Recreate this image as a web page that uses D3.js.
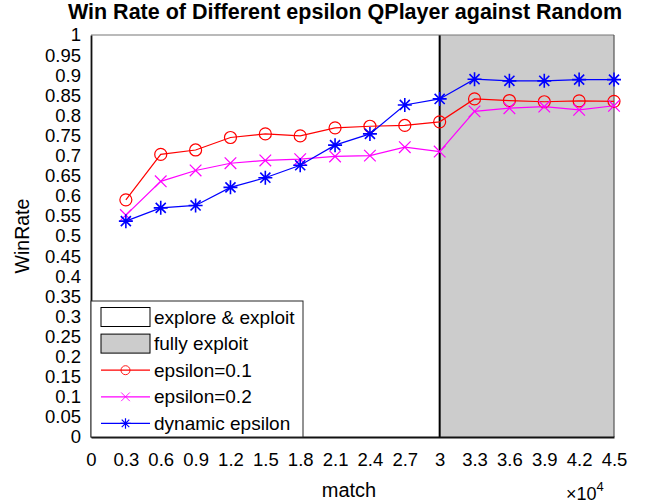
<!DOCTYPE html>
<html><head><meta charset="utf-8">
<script src="https://cdn.jsdelivr.net/npm/d3@7"></script>
<style>
body{margin:0;background:#fff;}
svg text{font-family:"Liberation Sans",Arial,sans-serif;fill:#000;}
</style></head>
<body>
<svg id="chart" width="649" height="504"></svg>
<script>
const matches = [0.3,0.6,0.9,1.2,1.5,1.8,2.1,2.4,2.7,3.0,3.3,3.6,3.9,4.2,4.5];
const eps01 = [0.590,0.703,0.714,0.745,0.754,0.749,0.769,0.773,0.775,0.784,0.841,0.837,0.834,0.836,0.835];
const eps02 = [0.552,0.636,0.663,0.681,0.688,0.691,0.698,0.700,0.721,0.710,0.810,0.818,0.822,0.814,0.824];
const dynEps = [0.537,0.570,0.576,0.621,0.645,0.676,0.726,0.754,0.826,0.841,0.890,0.886,0.886,0.889,0.889];
const xTicks = [0,0.3,0.6,0.9,1.2,1.5,1.8,2.1,2.4,2.7,3,3.3,3.6,3.9,4.2,4.5];
const yTicks = d3.range(0,21).map(i=>+(i*0.05).toFixed(2));
const exploitStart = 3, exploitEnd = 4.5;
const seriesNames = ["epsilon=0.1","epsilon=0.2","dynamic epsilon"];
const regionNames = ["explore & exploit","fully exploit"];

const svg = d3.select("#chart");
const L=91, R=614, T=35, B=437;
const x = d3.scaleLinear().domain([0,4.5]).range([L,R]);
const y = d3.scaleLinear().domain([0,1]).range([B,T]);

svg.append("rect").attr("x",L).attr("y",T).attr("width",R-L).attr("height",B-T).attr("fill","#fff");
svg.append("rect").attr("x",x(exploitStart)).attr("y",T).attr("width",x(exploitEnd)-x(exploitStart)).attr("height",B-T)
  .attr("fill","#cccccc");
svg.append("line").attr("x1",x(exploitStart)).attr("x2",x(exploitStart)).attr("y1",T).attr("y2",B)
  .attr("stroke","#000").attr("stroke-width",2);

svg.append("line").attr("x1",L).attr("x2",R).attr("y1",T).attr("y2",T).attr("stroke","#777").attr("stroke-width",1.2);
svg.append("line").attr("x1",R).attr("x2",R).attr("y1",T).attr("y2",B).attr("stroke","#555").attr("stroke-width",1.2);

const fmt = d=> String(d);
const xAxis = svg.append("g").attr("transform",`translate(0,${B})`)
  .call(d3.axisBottom(x).tickValues(xTicks).tickFormat(fmt).tickSize(0).tickPadding(16));
const yAxis = svg.append("g").attr("transform",`translate(${L},0)`)
  .call(d3.axisLeft(y).tickValues(yTicks).tickFormat(fmt).tickSize(0).tickPadding(10));
[xAxis,yAxis].forEach(g=>{
  g.select(".domain").attr("stroke","#111").attr("stroke-width",1.8);
  g.selectAll("text").style("font-size","18.5px").attr("fill","#262626");
});

const colors = ["#ff0000","#ff00ff","#0000ff"];
const data = [eps01,eps02,dynEps];
const line = d3.line().x((d,i)=>x(matches[i])).y(d=>y(d));
function marker(g,type,color){
  if(type===0){
    g.append("circle").attr("r",6).attr("fill","none").attr("stroke",color).attr("stroke-width",1.2);
  } else if(type===1){
    const s=5.8;
    g.append("path").attr("d",`M${-s},${-s}L${s},${s}M${-s},${s}L${s},${-s}`).attr("stroke",color).attr("stroke-width",1.2);
  } else {
    const s=7, d=s*0.72;
    g.append("path").attr("d",`M${-s},0L${s},0M0,${-s}L0,${s}M${-d},${-d}L${d},${d}M${-d},${d}L${d},${-d}`)
      .attr("stroke",color).attr("stroke-width",1.6);
  }
}
data.forEach((vals,k)=>{
  svg.append("path").datum(vals).attr("d",line).attr("fill","none").attr("stroke",colors[k]).attr("stroke-width",1.2);
  vals.forEach((v,i)=>{
    const g=svg.append("g").attr("transform",`translate(${x(matches[i])},${y(v)})`);
    marker(g,k,colors[k]);
  });
});

const lg = svg.append("g");
const lx=L, ly=301, lw=212, lh=B-301;
lg.append("rect").attr("x",lx).attr("y",ly).attr("width",lw).attr("height",lh).attr("fill","#fff").attr("stroke","#262626").attr("stroke-width",1);
const rowY = i=> ly+16+i*26.6;
const entries = [...regionNames.map((n,i)=>({n,type:"patch",fill:i?"#cccccc":"#fff"})),
  ...seriesNames.map((n,i)=>({n,type:"line",k:i}))];
entries.forEach((e,i)=>{
  const cy=rowY(i);
  if(e.type==="patch"){
    lg.append("rect").attr("x",lx+10).attr("y",cy-9.5).attr("width",49).attr("height",19).attr("fill",e.fill).attr("stroke","#000").attr("stroke-width",1);
  } else {
    lg.append("line").attr("x1",lx+10).attr("x2",lx+59).attr("y1",cy).attr("y2",cy).attr("stroke",colors[e.k]).attr("stroke-width",1.2);
    const g=lg.append("g").attr("transform",`translate(${lx+34.5},${cy}) scale(0.75)`);
    marker(g,e.k,colors[e.k]);
  }
  lg.append("text").attr("x",lx+63).attr("y",cy).attr("dy","0.35em").style("font-size","19px").text(e.n);
});

svg.append("text").attr("x",345).attr("y",19).attr("text-anchor","middle").style("font-size","21.5px").style("font-weight","bold").text("Win Rate of Different epsilon QPlayer against Random");
svg.append("text").attr("x",349).attr("y",497).attr("text-anchor","middle").style("font-size","20px").attr("fill","#262626").text("match");
svg.append("text").attr("transform",`translate(29,${(T+B)/2}) rotate(-90)`).attr("text-anchor","middle").style("font-size","19.5px").attr("fill","#262626").text("WinRate");
const ex = svg.append("text").attr("x",566).attr("y",500).style("font-size","18px").attr("fill","#262626");
ex.append("tspan").text("\u00d710");
ex.append("tspan").attr("dy",-9).style("font-size","13px").text("4");
</script>
</body></html>
